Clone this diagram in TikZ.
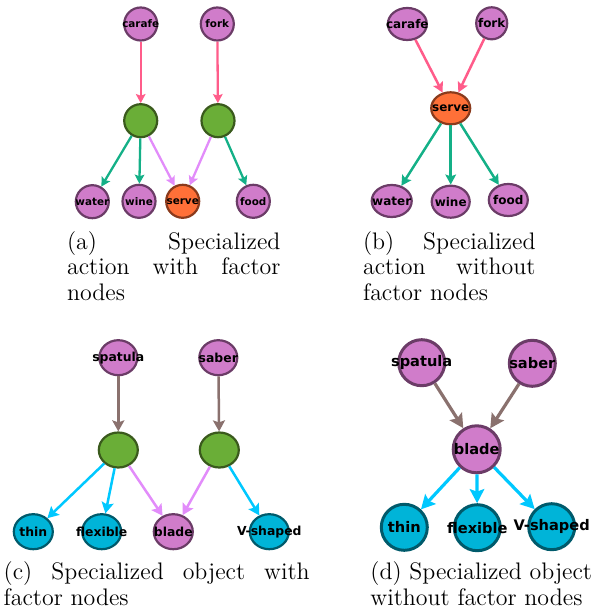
\documentclass[tikz,border=0pt]{standalone}
\usepackage{fontspec}
\newfontfamily\lblfont{DejaVu Sans}[BoldFont={DejaVu Sans Bold}]
\usetikzlibrary{shapes.geometric,arrows.meta}
\definecolor{purplefill}{HTML}{D07CCA}
\definecolor{purpleline}{HTML}{6B3C67}
\definecolor{greenfill}{HTML}{6AAE37}
\definecolor{greenline}{HTML}{3A5A1D}
\definecolor{orangefill}{HTML}{FF7038}
\definecolor{orangeline}{HTML}{8A3A1C}
\definecolor{cyanfill}{HTML}{00B4D8}
\definecolor{cyanline}{HTML}{005A6B}
\definecolor{pinkarr}{HTML}{FF5C8A}
\definecolor{tealarr}{HTML}{14B087}
\definecolor{violetarr}{HTML}{E28CFA}
\definecolor{brownarr}{HTML}{8A716E}
\definecolor{skyarr}{HTML}{00C8FF}
\tikzset{
  gnode/.style={ellipse, draw, inner sep=0pt, line width=1.1pt, font=\lblfont\bfseries},
  purp/.style={gnode, fill=purplefill, draw=purpleline},
  grn/.style={gnode, fill=greenfill, draw=greenline},
  orng/.style={gnode, fill=orangefill, draw=orangeline},
  cyn/.style={gnode, fill=cyanfill, draw=cyanline},
  sza/.style={minimum width=16.5pt, minimum height=16.5pt, font=\lblfont\bfseries\fontsize{5.2}{6}\selectfont},
  szb/.style={minimum height=16pt, font=\lblfont\bfseries\fontsize{6}{7}\selectfont},
  szc/.style={minimum height=17.5pt, minimum width=19.5pt, font=\lblfont\bfseries\fontsize{6.2}{7}\selectfont},
  szd/.style={minimum width=23pt, minimum height=23pt, line width=1.5pt, font=\lblfont\bfseries\fontsize{7.3}{8}\selectfont},
  arra/.style={line width=1.15pt, -{Stealth[length=4.5pt,width=4.8pt,inset=0.8pt]}},
  arrb/.style={line width=1.25pt, -{Stealth[length=5pt,width=5.3pt,inset=0.9pt]}},
  arrc/.style={line width=1.25pt, -{Stealth[length=5.5pt,width=6pt,inset=1pt]}},
  arrd/.style={line width=1.6pt, -{Stealth[length=7pt,width=7.2pt,inset=1.2pt]}},
  captxt/.style={anchor=base west, inner sep=0pt, font=\fontsize{11.95}{12.85}\selectfont},
}
\newcommand{\lbl}[1]{\makebox[0pt]{#1}}
\newcommand{\lbllow}[1]{\raisebox{-1pt}{\makebox[0pt]{#1}}}
\begin{document}
\begin{tikzpicture}[x=0.5pt,y=-0.5pt]
\useasboundingbox (0,0) rectangle (599,613);
% ---------- (a)
\node[purp,sza] (a-carafe) at (140.7,24) {\lbl{carafe}};
\node[purp,sza] (a-fork) at (217.3,24) {\lbl{fork}};
\node[grn,sza] (a-g1) at (140.7,120.7) {};
\node[grn,sza] (a-g2) at (218,120.7) {};
\node[purp,sza] (a-water) at (92.3,201.7) {\lbl{water}};
\node[purp,sza] (a-wine) at (139,201.3) {\lbl{wine}};
\node[orng,sza] (a-serve) at (182.7,201.3) {\lbl{serve}};
\node[purp,sza] (a-food) at (253.3,201.3) {\lbl{food}};
\draw[arra,pinkarr] (a-carafe) -- (a-g1);
\draw[arra,pinkarr] (a-fork) -- (a-g2);
\draw[arra,tealarr] (a-g1) -- (a-water);
\draw[arra,tealarr] (a-g1) -- (a-wine);
\draw[arra,violetarr] (a-g1) -- (a-serve);
\draw[arra,violetarr] (a-g2) -- (a-serve);
\draw[arra,tealarr] (a-g2) -- (a-food);
\node[captxt] (capa1) at (66.7,249.5) {\makebox[106.7pt][s]{(a) Specialized}};
\node[captxt] (capa2) at (66.7,275) {\makebox[106.7pt][s]{action with factor}};
\node[captxt] (capa3) at (66.7,300.5) {nodes};
% ---------- (b)
\node[purp,szb,minimum width=19.5pt] (b-carafe) at (407.3,24) {\lbl{carafe}};
\node[purp,szb,minimum width=15.5pt] (b-fork) at (491.7,23.3) {\lbl{fork}};
\node[orng,szb,minimum width=19.5pt] (b-serve) at (450.7,108.3) {\lbl{serve}};
\node[purp,szb,minimum width=20pt] (b-water) at (391.7,201) {\lbl{water}};
\node[purp,szb,minimum width=19pt] (b-wine) at (450.7,201.7) {\lbl{wine}};
\node[purp,szb,minimum width=19.5pt] (b-food) at (508.3,200) {\lbl{food}};
\draw[arrb,pinkarr] (b-carafe) -- (b-serve);
\draw[arrb,pinkarr] (b-fork) -- (b-serve);
\draw[arrb,tealarr] (b-serve) -- (b-water);
\draw[arrb,tealarr] (b-serve) -- (b-wine);
\draw[arrb,tealarr] (b-serve) -- (b-food);
\node[captxt] (capb1) at (362.7,249.5) {\makebox[86.2pt][s]{(b) Specialized}};
\node[captxt] (capb2) at (362.7,275) {\makebox[86.2pt][s]{action without}};
\node[captxt] (capb3) at (362.7,300.5) {factor nodes};
% ---------- (c)
\node[purp,szc,minimum width=19pt] (c-spatula) at (118.3,357.7) {\lbllow{spatula}};
\node[purp,szc,minimum width=19pt] (c-saber) at (218.3,357.7) {\lbl{saber}};
\node[grn,szc] (c-g1) at (118.3,450) {};
\node[grn,szc] (c-g2) at (219.3,450) {};
\node[cyn,szc] (c-thin) at (33.3,531.7) {\lbl{thin}};
\node[cyn,szc] (c-flexible) at (101.7,531.7) {\lbl{flexible}};
\node[purp,szc] (c-blade) at (173.3,531.7) {\lbl{blade}};
\node[cyn,szc] (c-vshaped) at (269.3,531.7) {\lbl{V-shaped}};
\draw[arrc,brownarr] (c-spatula) -- (c-g1);
\draw[arrc,brownarr] (c-saber) -- (c-g2);
\draw[arrc,skyarr] (c-g1) -- (c-thin);
\draw[arrc,skyarr] (c-g1) -- (c-flexible);
\draw[arrc,violetarr] (c-g1) -- (c-blade);
\draw[arrc,violetarr] (c-g2) -- (c-blade);
\draw[arrc,skyarr] (c-g2) -- (c-vshaped);
\node[captxt] (capc1) at (3.3,579.5) {\makebox[153pt][s]{(c) Specialized object with}};
\node[captxt] (capc2) at (3.3,605) {factor nodes};
% ---------- (d)
\node[purp,szd] (d-spatula) at (421.7,362.7) {\lbllow{spatula}};
\node[purp,szd] (d-saber) at (532.3,363.3) {\lbl{saber}};
\node[purp,szd,minimum width=23.5pt,minimum height=23.5pt] (d-blade) at (476.7,449.3) {\lbl{blade}};
\node[cyn,szd] (d-thin) at (404.3,527.3) {\lbl{thin}};
\node[cyn,szd] (d-flexible) at (477.3,527.7) {\lbl{flexible}};
\node[cyn,szd] (d-vshaped) at (551.7,526.7) {\lbl{V-shaped}};
\draw[arrd,brownarr] (d-spatula) -- (d-blade);
\draw[arrd,brownarr] (d-saber) -- (d-blade);
\draw[arrd,skyarr] (d-blade) -- (d-thin);
\draw[arrd,skyarr] (d-blade) -- (d-flexible);
\draw[arrd,skyarr] (d-blade) -- (d-vshaped);
\node[captxt] (capd1) at (370,579.5) {(d) Specialized object};
\node[captxt] (capd2) at (370,605) {without factor nodes};
\end{tikzpicture}
\end{document}
